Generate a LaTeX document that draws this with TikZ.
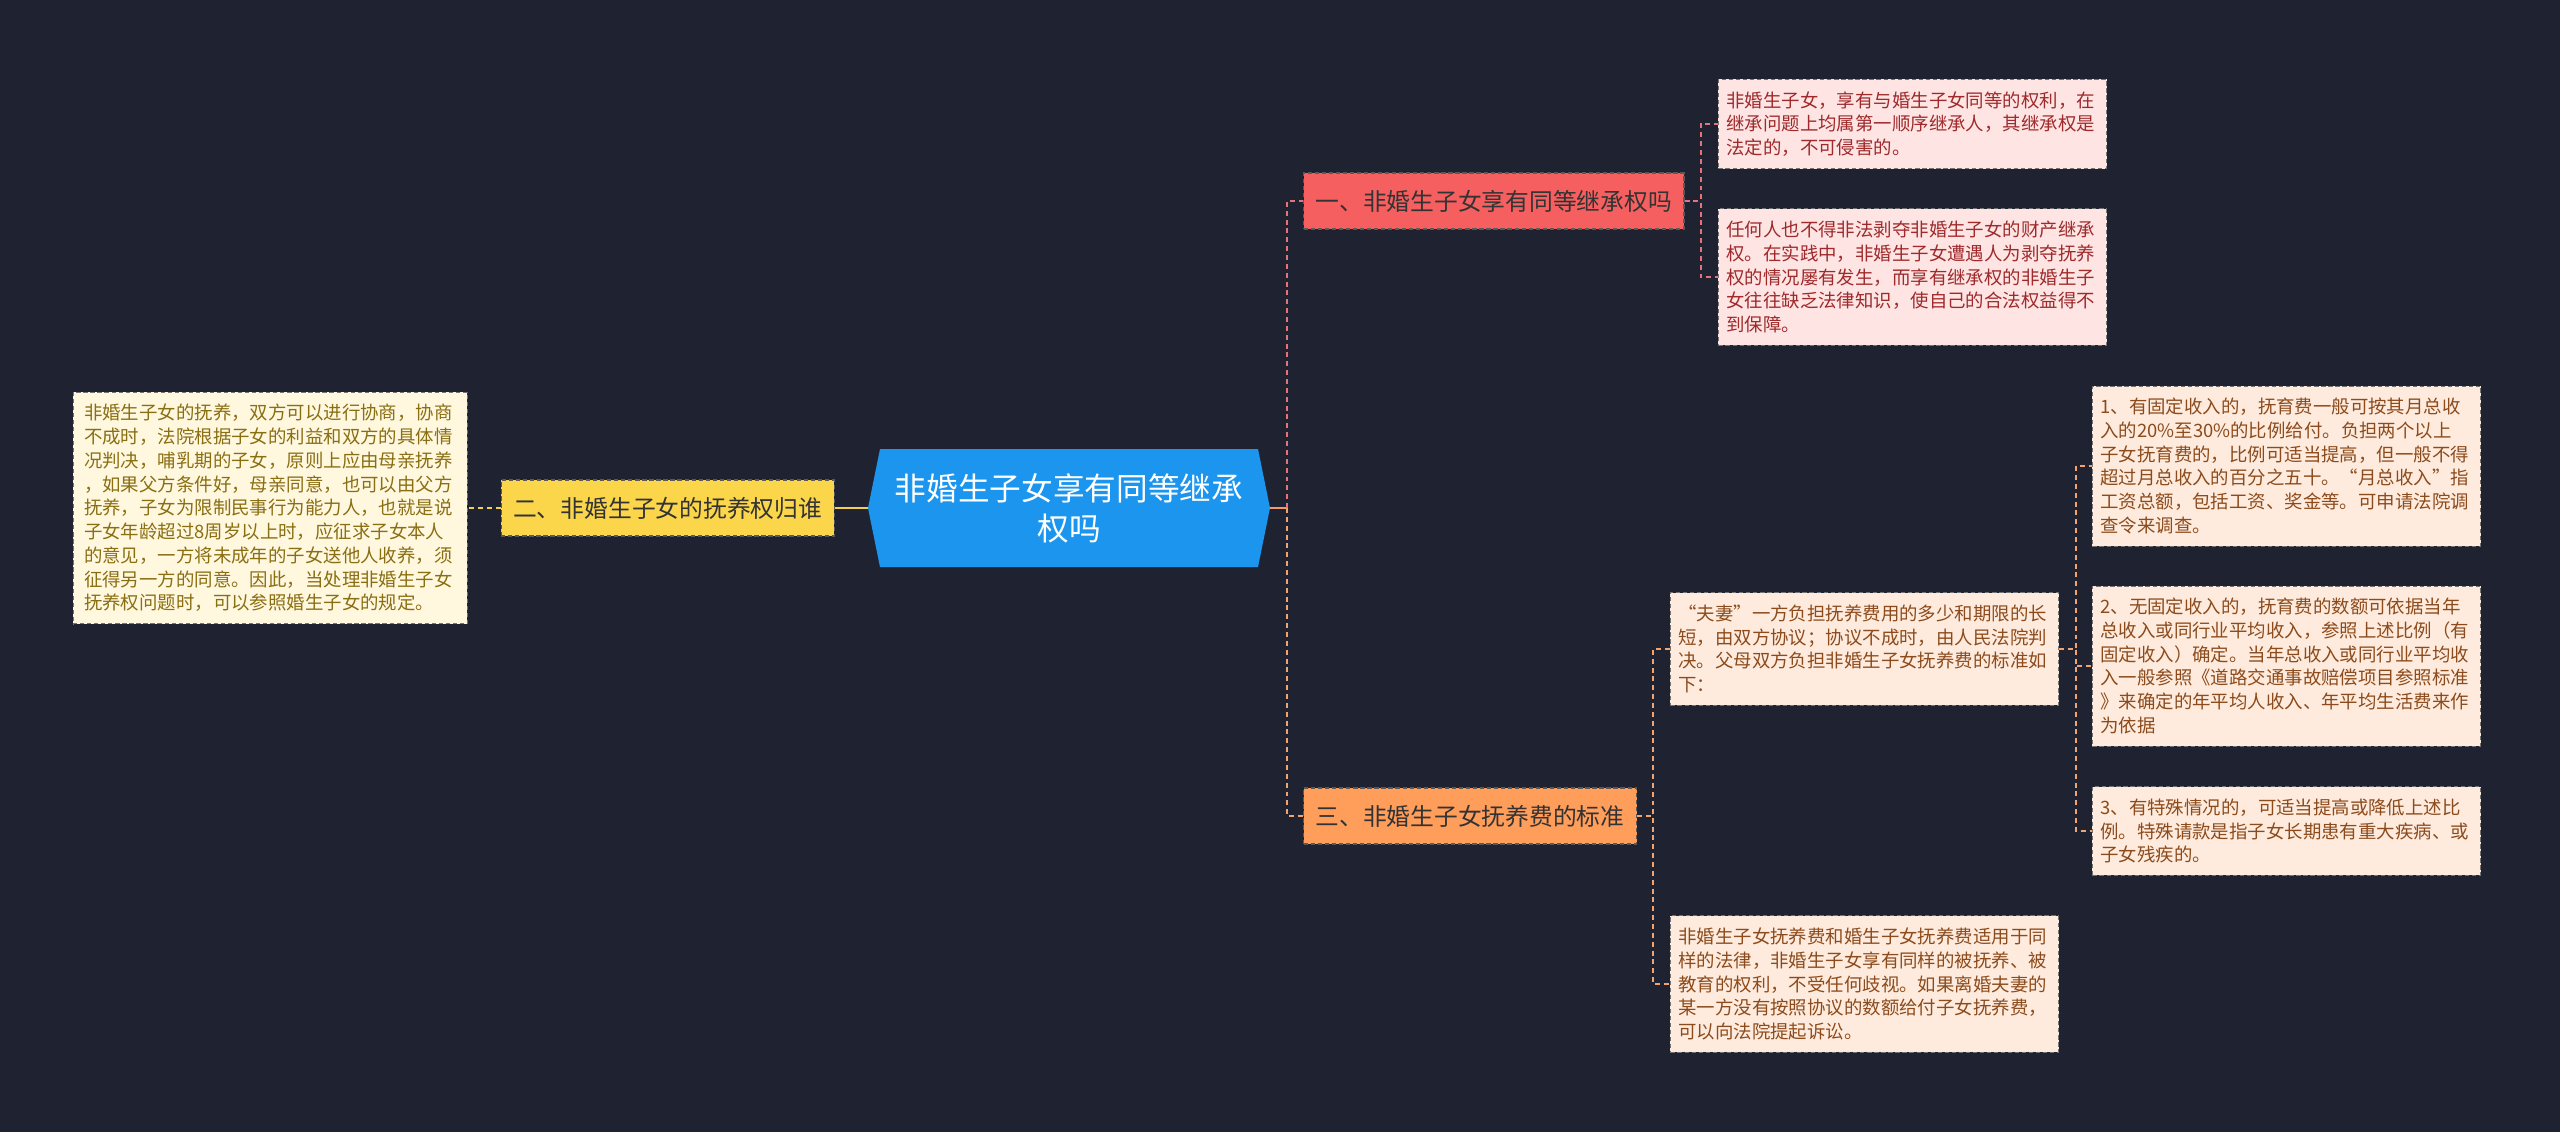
\documentclass[tikz,border=0pt]{standalone}
\usepackage{fontspec}
\setmainfont{Noto Sans CJK SC}
\usetikzlibrary{positioning, shapes.symbols}
\definecolor{fondoOscuro}{HTML}{1F2331}
\definecolor{azulRaiz}{HTML}{1B95EE}
\definecolor{rojoRama}{HTML}{F65F5F}
\definecolor{amarilloRama}{HTML}{FBD64B}
\definecolor{naranjaRama}{HTML}{FF9D5A}
\definecolor{rosaHoja}{HTML}{FFE4E4}
\definecolor{cremaHoja}{HTML}{FFF8DF}
\definecolor{duraznoHoja}{HTML}{FFEBDD}
\definecolor{colTextoRosa}{HTML}{9E2A2B}
\definecolor{colTextoCrema}{HTML}{8A6E12}
\definecolor{colTextoDurazno}{HTML}{8C4B1C}
\definecolor{colLineaRoja}{HTML}{E8727A}
\definecolor{colLineaNaranja}{HTML}{F3A46C}
\definecolor{colLineaAmarilla}{HTML}{F5D04E}
\colorlet{colTextoRama}{black!80}
\colorlet{colBorde}{black!65}
\newcommand{\pxl}{0.025cm}
\tikzset{
  cajaRaiz/.style={
    signal, signal to=west and east, signal pointer angle=157,
    fill=azulRaiz, text=white, minimum width=402*\pxl, minimum height=118*\pxl,
    inner sep=0pt, align=center, font=\fontsize{22.5}{28.5}\selectfont
  },
  cajaRama/.style={
    draw=colBorde, dash pattern=on 3pt off 2pt, line width=0.8pt,
    minimum height=56*\pxl, inner xsep=12*\pxl, inner ysep=0pt,
    text=colTextoRama, font=\fontsize{16.9}{20}\selectfont
  },
  cajaHoja/.style={
    draw=black!55, dash pattern=on 3pt off 2pt, line width=0.6pt,
    text width=9.3cm, inner xsep=8*\pxl, inner ysep=12*\pxl,
    align=left, font=\fontsize{13.1}{16.9}\selectfont
  },
  hojaRosa/.style={cajaHoja, fill=rosaHoja, text=colTextoRosa},
  hojaCrema/.style={cajaHoja, fill=cremaHoja, text=colTextoCrema},
  hojaDurazno/.style={cajaHoja, fill=duraznoHoja, text=colTextoDurazno},
  tramoRaiz/.style={line width=1.4pt, colLineaNaranja!80!colLineaRoja},
  lineaRoja/.style={line width=1.4pt, dash pattern=on 3.5pt off 2.8pt, colLineaRoja},
  lineaNaranja/.style={line width=1.4pt, dash pattern=on 3.5pt off 2.8pt, colLineaNaranja},
  lineaAmarilla/.style={line width=1.6pt, colLineaAmarilla},
}

\begin{document}
\begin{tikzpicture}[x=0.025cm, y=-0.025cm]
  \useasboundingbox[fill=fondoOscuro] (0,0) rectangle (2560,1132);

  % raiz y rama izquierda
  \node[cajaRaiz] (raiz) at (1069,508) {非婚生子女享有同等继承\\权吗};
  \node[cajaRama, fill=amarilloRama, left=0.825cm of raiz] (r2) {二、非婚生子女的抚养权归谁};
  \node[hojaCrema, inner xsep=11*\pxl, left=0.825cm of r2] (h21) {非婚生子女的抚养，双方可以进行协商，协商\\不成时，法院根据子女的利益和双方的具体情\\况判决，哺乳期的子女，原则上应由母亲抚养\\，如果父方条件好，母亲同意，也可以由父方\\抚养，子女为限制民事行为能力人，也就是说\\子女年龄超过8周岁以上时，应征求子女本人\\的意见，一方将未成年的子女送他人收养，须\\征得另一方的同意。因此，当处理非婚生子女\\抚养权问题时，可以参照婚生子女的规定。};

  % ramas derechas
  \node[cajaRama, fill=rojoRama, anchor=west] (r1) at (1303,201) {一、非婚生子女享有同等继承权吗};
  \node[cajaRama, fill=naranjaRama, anchor=west] (r3) at (1303,816) {三、非婚生子女抚养费的标准};

  \node[hojaRosa, anchor=west] (h11) at (1718,124) {非婚生子女，享有与婚生子女同等的权利，在\\继承问题上均属第一顺序继承人，其继承权是\\法定的，不可侵害的。};
  \node[hojaRosa, anchor=west] (h12) at (1718,277) {任何人也不得非法剥夺非婚生子女的财产继承\\权。在实践中，非婚生子女遭遇人为剥夺抚养\\权的情况屡有发生，而享有继承权的非婚生子\\女往往缺乏法律知识，使自己的合法权益得不\\到保障。};

  \node[hojaDurazno, anchor=west] (h31) at (1670,649) {“夫妻”一方负担抚养费用的多少和期限的长\\短，由双方协议；协议不成时，由人民法院判\\决。父母双方负担非婚生子女抚养费的标准如\\下：};
  \node[hojaDurazno, anchor=west] (h32) at (1670,984) {非婚生子女抚养费和婚生子女抚养费适用于同\\样的法律，非婚生子女享有同样的被抚养、被\\教育的权利，不受任何歧视。如果离婚夫妻的\\某一方没有按照协议的数额给付子女抚养费，\\可以向法院提起诉讼。};

  \node[hojaDurazno, anchor=west] (h311) at (2092,466) {1、有固定收入的，抚育费一般可按其月总收\\入的20\%至30\%的比例给付。负担两个以上\\子女抚育费的，比例可适当提高，但一般不得\\超过月总收入的百分之五十。“月总收入”指\\工资总额，包括工资、奖金等。可申请法院调\\查令来调查。};
  \node[hojaDurazno, anchor=west] (h312) at (2092,666) {2、无固定收入的，抚育费的数额可依据当年\\总收入或同行业平均收入，参照上述比例（有\\固定收入）确定。当年总收入或同行业平均收\\入一般参照《道路交通事故赔偿项目参照标准\\》来确定的年平均人收入、年平均生活费来作\\为依据};
  \node[hojaDurazno, anchor=west] (h313) at (2092,831) {3、有特殊情况的，可适当提高或降低上述比\\例。特殊请款是指子女长期患有重大疾病、或\\子女残疾的。};

  % conectores
  \draw[lineaAmarilla] (raiz.west) -- (r2.east);
  \draw[lineaAmarilla, dash pattern=on 3.5pt off 2.8pt] (r2.west) -- (h21.east);
  \draw[tramoRaiz] (raiz.east) -- ++(17,0);
  \draw[lineaRoja] (raiz.east) ++(17,0) |- (r1.west);
  \draw[lineaNaranja] (raiz.east) ++(17,0) |- (r3.west);
  \foreach \h in {h11,h12}
    \draw[lineaRoja] (r1.east) -- ++(16,0) |- (\h.west);
  \foreach \h in {h31,h32}
    \draw[lineaNaranja] (r3.east) -- ++(16,0) |- (\h.west);
  \foreach \h in {h311,h312,h313}
    \draw[lineaNaranja] (h31.east) -- ++(17,0) |- (\h.west);
\end{tikzpicture}
\end{document}
